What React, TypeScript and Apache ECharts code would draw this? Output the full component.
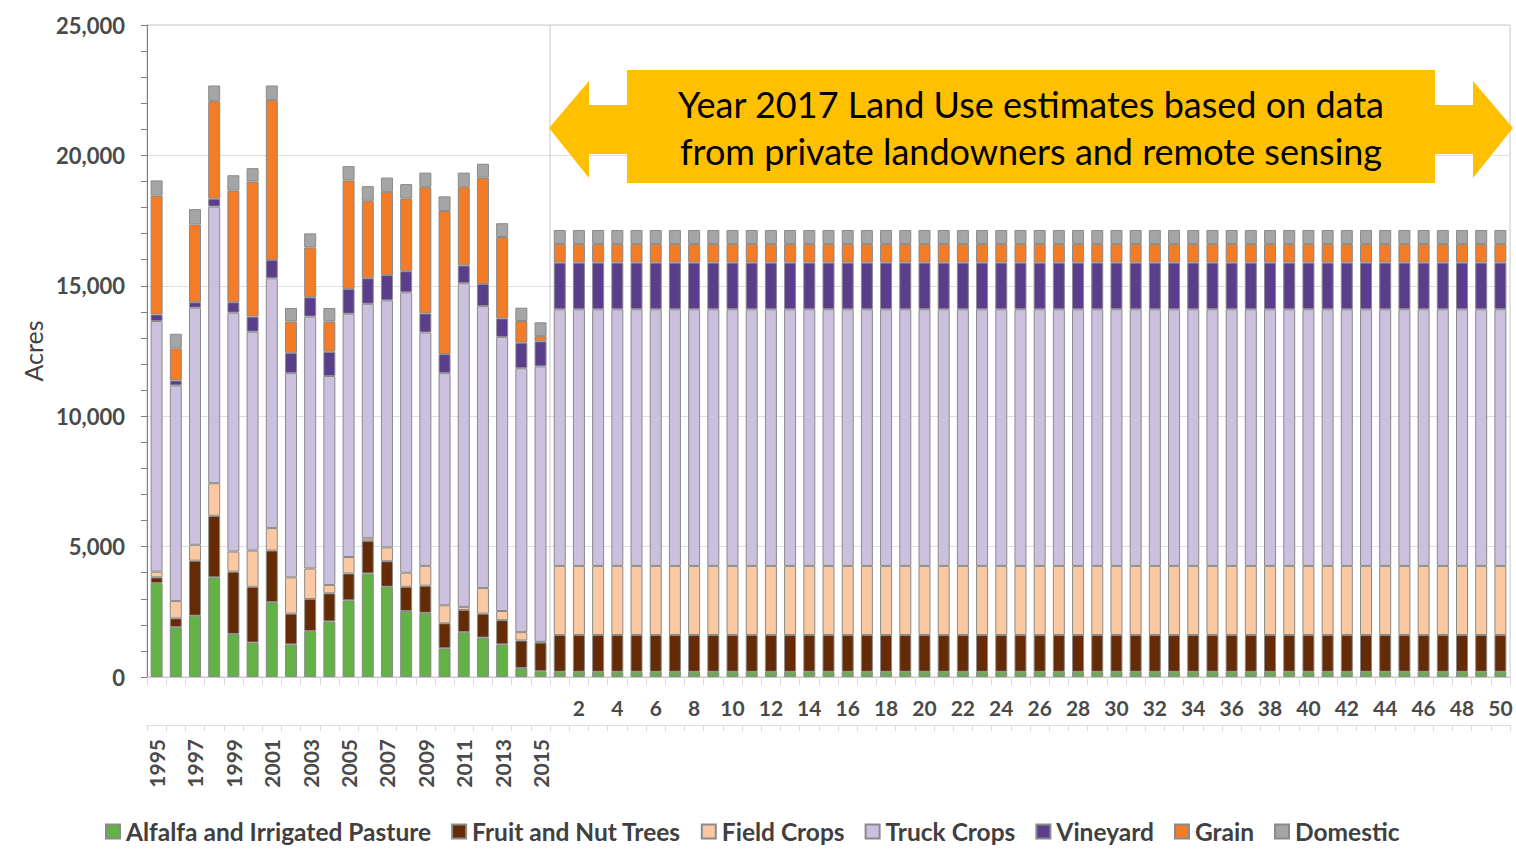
import React, { useEffect, useRef } from "react";
import * as echarts from "echarts";

// Historical years
const years = ["1995","1996","1997","1998","1999","2000","2001","2002","2003","2004","2005","2006","2007","2008","2009","2010","2011","2012","2013","2014","2015"];
// Projection steps
const steps = ["1","2","3","4","5","6","7","8","9","10","11","12","13","14","15","16","17","18","19","20","21","22","23","24","25","26","27","28","29","30","31","32","33","34","35","36","37","38","39","40","41","42","43","44","45","46","47","48","49","50"];

// Historical values (acres)
const histAlfalfa = [3600,1910,2350,3820,1650,1320,2870,1250,1760,2130,2940,3970,3460,2530,2460,1100,1720,1510,1250,340,220];
const histFruit = [220,340,2110,2360,2390,2140,1980,1180,1230,1080,1030,1250,980,930,1040,960,850,920,930,1060,1100];
const histField = [220,660,610,1250,770,1390,860,1390,1170,320,630,100,530,540,760,690,120,980,350,320,30];
const histTruck = [9610,8270,9090,10610,9160,8390,9580,7830,9660,8010,9330,8990,9470,10750,8950,8900,12410,10810,10510,10120,10560];
const histVineyard = [250,190,210,300,400,580,700,780,740,930,950,980,970,810,730,730,680,850,710,980,960];
const histGrain = [4560,1230,2980,3750,4280,5180,6130,1200,1910,1160,4160,2970,3190,2790,4840,5490,3000,4080,3120,830,200];
const histDomestic = [580,560,590,590,590,510,560,520,540,520,550,560,550,550,560,560,560,530,530,510,530];

// Projected values (acres), 50 bars, identical in the reference
const projAlfalfa = [200,200,200,200,200,200,200,200,200,200,200,200,200,200,200,200,200,200,200,200,200,200,200,200,200,200,200,200,200,200,200,200,200,200,200,200,200,200,200,200,200,200,200,200,200,200,200,200,200,200];
const projFruit = [1410,1410,1410,1410,1410,1410,1410,1410,1410,1410,1410,1410,1410,1410,1410,1410,1410,1410,1410,1410,1410,1410,1410,1410,1410,1410,1410,1410,1410,1410,1410,1410,1410,1410,1410,1410,1410,1410,1410,1410,1410,1410,1410,1410,1410,1410,1410,1410,1410,1410];
const projField = [2650,2650,2650,2650,2650,2650,2650,2650,2650,2650,2650,2650,2650,2650,2650,2650,2650,2650,2650,2650,2650,2650,2650,2650,2650,2650,2650,2650,2650,2650,2650,2650,2650,2650,2650,2650,2650,2650,2650,2650,2650,2650,2650,2650,2650,2650,2650,2650,2650,2650];
const projTruck = [9840,9840,9840,9840,9840,9840,9840,9840,9840,9840,9840,9840,9840,9840,9840,9840,9840,9840,9840,9840,9840,9840,9840,9840,9840,9840,9840,9840,9840,9840,9840,9840,9840,9840,9840,9840,9840,9840,9840,9840,9840,9840,9840,9840,9840,9840,9840,9840,9840,9840];
const projVineyard = [1790,1790,1790,1790,1790,1790,1790,1790,1790,1790,1790,1790,1790,1790,1790,1790,1790,1790,1790,1790,1790,1790,1790,1790,1790,1790,1790,1790,1790,1790,1790,1790,1790,1790,1790,1790,1790,1790,1790,1790,1790,1790,1790,1790,1790,1790,1790,1790,1790,1790];
const projGrain = [710,710,710,710,710,710,710,710,710,710,710,710,710,710,710,710,710,710,710,710,710,710,710,710,710,710,710,710,710,710,710,710,710,710,710,710,710,710,710,710,710,710,710,710,710,710,710,710,710,710];
const projDomestic = [540,540,540,540,540,540,540,540,540,540,540,540,540,540,540,540,540,540,540,540,540,540,540,540,540,540,540,540,540,540,540,540,540,540,540,540,540,540,540,540,540,540,540,540,540,540,540,540,540,540];

const seriesNames = ["Alfalfa and Irrigated Pasture","Fruit and Nut Trees","Field Crops","Truck Crops","Vineyard","Grain","Domestic"];
const seriesColors = ["#63b246","#642b05","#fbc8a2","#cbc1de","#5b3d8e","#f47c26","#a5a5a5"];

const annotationLines = ["Year 2017 Land Use estimates based on data", "from private landowners and remote sensing"];

const FONT = "Lato, 'Open Sans', sans-serif";

export default function App() {
  const ref = useRef<HTMLDivElement>(null);
  useEffect(() => {
    if (!ref.current) return;
    const chart = echarts.init(ref.current, null, { renderer: "svg" });
    const categories = [...years, ...steps];
    const values = [
      [...histAlfalfa, ...projAlfalfa],
      [...histFruit, ...projFruit],
      [...histField, ...projField],
      [...histTruck, ...projTruck],
      [...histVineyard, ...projVineyard],
      [...histGrain, ...projGrain],
      [...histDomestic, ...projDomestic],
    ];
    const nYears = years.length;
    const option: any = {
      animation: false,
      backgroundColor: "#ffffff",
      textStyle: { fontFamily: FONT },
      grid: {
        left: 147, right: 6, top: 25, bottom: 179,
        show: true, borderColor: "#c8c8c8", borderWidth: 1, backgroundColor: "#ffffff",
      },
      legend: {
        bottom: 7, left: 100,
        itemWidth: 14, itemHeight: 14, itemGap: 20, icon: "rect",
        textStyle: { fontFamily: FONT, fontSize: 24.5, fontWeight: "bold", color: "#404040", padding: [0, 0, 0, 1] },
        data: seriesNames,
      },
      xAxis: [
        {
          type: "category", data: categories, position: "bottom",
          axisLine: { show: true, lineStyle: { color: "#c8c8c8" } },
          axisTick: { show: true, interval: 0, length: 8, lineStyle: { color: "#dcdcdc" } },
          axisLabel: {
            interval: 0, margin: 20, fontFamily: FONT, fontSize: 21, fontWeight: "bold", color: "#4a4a4a",
            formatter: (v: string, i: number) => (i >= nYears && Number(v) % 2 === 0 ? v : ""),
          },
        },
        {
          type: "category", data: categories, position: "bottom", offset: 48,
          axisLine: { show: true, lineStyle: { color: "#dcdcdc" } },
          axisTick: { show: true, interval: 0, length: 6, lineStyle: { color: "#dcdcdc" } },
          axisLabel: {
            interval: 0, rotate: 90, margin: 14, fontFamily: FONT, fontSize: 21, fontWeight: "bold", color: "#4a4a4a",
            formatter: (v: string, i: number) => (i < nYears && i % 2 === 0 ? v : ""),
          },
        },
      ],
      yAxis: {
        type: "value", min: 0, max: 25000, interval: 5000,
        name: "Acres", nameLocation: "middle", nameRotate: 90, nameGap: 92,
        nameTextStyle: { fontFamily: FONT, fontSize: 25, color: "#404040" },
        axisLine: { show: true, lineStyle: { color: "#7f7f7f" } },
        axisTick: { show: true, length: 6, lineStyle: { color: "#7f7f7f" } },
        minorTick: { show: true, splitNumber: 5, length: 6, lineStyle: { color: "#7f7f7f" } },
        splitLine: { show: true, lineStyle: { color: "#dedede" } },
        axisLabel: {
          margin: 22, fontFamily: FONT, fontSize: 22, fontWeight: "bold", color: "#4a4a4a",
          formatter: (v: number) => v.toLocaleString("en-US"),
        },
      },
      series: seriesNames.map((name, k) => ({
        name, type: "bar", stack: "total", xAxisIndex: 0, barWidth: 12,
        itemStyle: { color: seriesColors[k], borderColor: "#8a8a8a", borderWidth: 1 },
        data: values[k],
      })),
      graphic: [
        { type: "line", shape: { x1: 550, y1: 25, x2: 550, y2: 677 }, style: { stroke: "#c8c8c8", lineWidth: 1 }, z: 1 },
        {
          type: "polygon", z: 10,
          shape: { points: [[549,128],[589,81],[589,105],[1473,105],[1473,81],[1513,128],[1473,178],[1473,154],[589,154],[589,178]] },
          style: { fill: "#FFC000" },
        },
        { type: "rect", z: 10, shape: { x: 627, y: 70, width: 808, height: 113 }, style: { fill: "#FFC000" } },
        {
          type: "text", z: 11, x: 1031, y: 127,
          style: {
            text: annotationLines.join("\n"), fill: "#000000", font: `36px ${FONT}`,
            align: "center", verticalAlign: "middle", lineHeight: 47,
          },
        },
      ],
    };
    chart.setOption(option);
    return () => chart.dispose();
  }, []);
  return (
    <div style={{ position: "fixed", left: 0, top: 0, width: 1516, height: 856, background: "linear-gradient(to right, #8ea6bb 0px, #c3ced8 5px, #ffffff 9px)" }}>
      <div ref={ref} style={{ position: "absolute", left: 0, top: 0, width: 1516, height: 856 }} />
    </div>
  );
}
